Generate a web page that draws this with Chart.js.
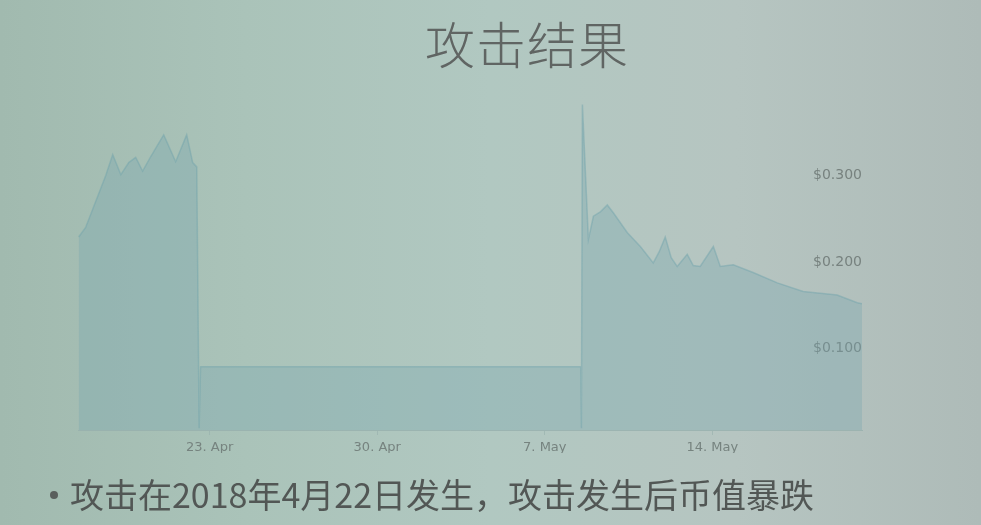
<!DOCTYPE html>
<html>
<head>
<meta charset="utf-8">
<script src="https://cdn.jsdelivr.net/npm/chart.js@4/dist/chart.umd.min.js"></script>
<style>
  html, body { margin: 0; padding: 0; }
  body {
    width: 981px; height: 525px; overflow: hidden; position: relative;
    background: linear-gradient(90deg, #a1baaf 0%, #aac3b9 25%, #b1c8c1 50%, #b6c5c1 75%, #aebbb8 100%);
    font-family: "Noto Sans CJK SC", "Noto Sans", sans-serif;
  }
  #title {
    position: absolute; left: 0; width: 1054px; top: 6px; text-align: center;
    font-size: 50px; font-weight: 300; color: #606563; letter-spacing: 1px;
  }
  #bullet {
    position: absolute; left: 44px; top: 469px; white-space: nowrap;
    font-size: 34px; color: #525755;
  }
  #bullet .dot {
    display: inline-block; width: 8px; height: 8px; border-radius: 50%;
    background: #5a5f5d; margin: 0 12px 0 6px; vertical-align: 9px;
  }
  #chartBox { position: absolute; left: 0; top: 0; width: 981px; height: 525px; }
</style>
</head>
<body>
<div id="title">攻击结果</div>
<div id="chartBox"><canvas id="priceChart"></canvas></div>
<div id="bullet"><span class="dot"></span>攻击在2018年4月22日发生，攻击发生后币值暴跌</div>
<script>
// Days counted from 1 Apr 2018 (23 = 23. Apr, 37 = 7. May)
const days = [
  17.53, 17.82, 18.24, 18.66, 18.95, 19.29, 19.62, 19.91, 20.20, 20.54,
  21.08, 21.58, 22.04, 22.29, 22.46, 22.56, 22.62,
  38.50, 38.53, 38.57, 38.82, 39.03, 39.32, 39.61, 39.86, 40.45, 40.99,
  41.53, 41.78, 42.03, 42.28, 42.53, 42.95, 43.20, 43.49, 44.04, 44.33,
  44.87, 45.70, 46.71, 47.79, 49.21, 50.05, 50.25
];
// Price in USD
const prices = [
  0.229, 0.240, 0.270, 0.300, 0.324, 0.301, 0.315, 0.321, 0.305, 0.322,
  0.347, 0.316, 0.347, 0.315, 0.310, 0.008, 0.079,
  0.079, 0.008, 0.382, 0.226, 0.253, 0.258, 0.266, 0.257, 0.234, 0.218,
  0.199, 0.212, 0.229, 0.205, 0.195, 0.209, 0.196, 0.195, 0.218, 0.195,
  0.197, 0.188, 0.176, 0.166, 0.162, 0.153, 0.152
];
const tickDays = [23, 30, 37, 44];
const tickLabels = ['23. Apr', '30. Apr', '7. May', '14. May'];
const priceTicks = [0.1, 0.2, 0.3];

const points = days.map((d, i) => ({ x: d, y: prices[i] }));

new Chart(document.getElementById('priceChart'), {
  type: 'line',
  data: {
    datasets: [{
      label: 'Price (USD)',
      data: points,
      borderColor: 'rgba(110,162,170,0.45)',
      borderWidth: 1.5,
      backgroundColor: 'rgba(120,165,175,0.35)',
      fill: 'origin',
      pointRadius: 0,
      tension: 0
    }]
  },
  options: {
    responsive: true,
    maintainAspectRatio: false,
    animation: false,
    layout: { padding: { left: 78, right: 119, top: 89, bottom: 72 } },
    plugins: { legend: { display: false }, tooltip: { enabled: false } },
    scales: {
      x: {
        type: 'linear',
        min: 17.5,
        max: 50.25,
        afterBuildTicks: scale => { scale.ticks = tickDays.map(v => ({ value: v })); },
        afterFit: scale => { scale.height = 23; },
        ticks: {
          color: '#76837f',
          font: { size: 13, family: 'DejaVu Sans' },
          padding: 5,
          maxRotation: 0,
          callback: v => tickLabels[tickDays.indexOf(v)] || ''
        },
        grid: { display: true, drawOnChartArea: false, tickLength: 5, color: 'rgba(150,175,172,0.6)' },
        border: { display: true, color: 'rgba(150,175,172,0.8)' }
      },
      y: {
        position: 'right',
        min: 0.006,
        max: 0.4,
        afterBuildTicks: scale => { scale.ticks = priceTicks.map(v => ({ value: v })); },
        afterFit: scale => { scale.width = 0; },
        ticks: {
          mirror: true,
          color: '#77827f',
          font: { size: 14, family: 'DejaVu Sans' },
          padding: 0,
          callback: v => '$' + v.toFixed(3)
        },
        grid: { display: false },
        border: { display: false }
      }
    }
  }
});
</script>
</body>
</html>
